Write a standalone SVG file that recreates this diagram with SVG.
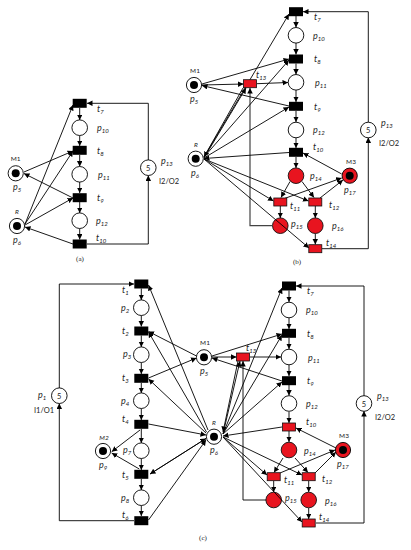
<svg xmlns="http://www.w3.org/2000/svg" width="411" height="550" viewBox="0 0 411 550">
<defs>
<marker id="a" markerUnits="userSpaceOnUse" markerWidth="6" markerHeight="6" refX="5.5" refY="2.75" orient="auto"><path d="M0 0L5.5 2.75L0 5.5z" fill="#000"/></marker>
<symbol id="tb" overflow="visible"><rect x="-7" y="-4.5" width="14" height="9" fill="#000"/></symbol>
<symbol id="tr" overflow="visible"><rect x="-6.5" y="-4" width="13" height="8" fill="#e8141f" stroke="#111" stroke-width="0.8"/></symbol>
<symbol id="pw" overflow="visible"><circle r="7.8" fill="#fff" stroke="#000" stroke-width="0.9"/></symbol>
<symbol id="pr" overflow="visible"><circle r="7.8" fill="#e8141f" stroke="#111" stroke-width="0.9"/></symbol>
<symbol id="pt" overflow="visible"><circle r="7.6" fill="#fff" stroke="#000" stroke-width="0.9"/><circle r="4" fill="#000"/></symbol>
<symbol id="pm" overflow="visible"><circle r="7.6" fill="#e8141f" stroke="#000" stroke-width="0.9"/><circle r="4" fill="#000"/></symbol>
</defs>
<style>
text{font-family:"Lato","Liberation Sans",sans-serif;font-size:9px;fill:#222}
.i{font-style:italic}
.s{font-size:6px}
.c{font-family:"Liberation Serif",serif;font-size:7px}
.n{font-size:6.5px}
.f{font-size:7.5px}
#conn line,#conn polyline{stroke:#000;stroke-width:0.9;fill:none;marker-end:url(#a)}
#conn .g{stroke:#444;stroke-width:1.2}
</style>
<g id="b_p15"><use href="#pr" x="280.3" y="225.7"/><text class="i" x="291" y="227">p<tspan class="s" dy="1.5">15</tspan></text></g>
<g id="c_p15"><use href="#pr" x="273.7" y="500"/><text class="i" x="285" y="501">p<tspan class="s" dy="1.5">15</tspan></text></g>
<g id="conn">
<line x1="79.7" y1="108" x2="79.7" y2="120"/><line x1="79.7" y1="135.5" x2="79.7" y2="146"/><line x1="79.7" y1="155" x2="79.7" y2="166.5"/><line x1="79.7" y1="182" x2="79.7" y2="193"/><line x1="79.7" y1="202" x2="79.7" y2="213"/><line x1="79.7" y1="228.5" x2="79.7" y2="239.5"/>
<polyline points="87,244 148.3,244 148.3,175.5"/><polyline points="148.3,160 148.3,103.3 87,103.3"/>
<line x1="24" y1="172" x2="73" y2="151"/><line x1="73" y1="198" x2="24" y2="173.5"/><line x1="25" y1="224" x2="73" y2="105"/><line x1="25" y1="224" x2="73" y2="151"/><line x1="25" y1="225" x2="73" y2="198"/><line x1="73" y1="244" x2="25" y2="227"/>
<line x1="296" y1="16" x2="296" y2="27.5"/><line x1="296" y1="43" x2="296" y2="54.5"/><line x1="296" y1="63.5" x2="296" y2="74.5"/><line x1="296" y1="90" x2="296" y2="102"/><line x1="296" y1="111" x2="296" y2="122"/><line x1="296" y1="138" x2="296" y2="148"/><line x1="296" y1="157" x2="296" y2="168"/>
<line x1="290" y1="181.5" x2="281" y2="197.5"/><line x1="302" y1="181.5" x2="314" y2="197.5"/><line x1="280.3" y1="206" x2="280.3" y2="218"/><line x1="315.3" y1="206" x2="315.3" y2="218"/><line x1="315.3" y1="233.5" x2="315.3" y2="244.5"/>
<polyline points="322,248.7 368.3,248.7 368.3,137.5"/><polyline points="368.3,122.5 368.3,11.7 303,11.7"/>
<polyline class="g" points="272.5,225.7 250,225.7 250,88"/>
<line x1="320" y1="198" x2="343" y2="180"/><line x1="285" y1="198.3" x2="341.7" y2="178"/><line x1="341.7" y1="174" x2="303" y2="153"/>
<line x1="257" y1="83.7" x2="288" y2="82.5"/>
<line x1="202" y1="84" x2="289" y2="59"/><line x1="289" y1="106" x2="202" y2="85.5"/><line x1="202" y1="85" x2="243.5" y2="84"/>
<line x1="204" y1="157" x2="289" y2="14"/><line x1="204" y1="157" x2="289" y2="60"/><line x1="204" y1="158" x2="289" y2="107"/><line x1="204" y1="158" x2="246" y2="88"/><line x1="243" y1="88" x2="204" y2="157"/>
<line x1="289" y1="152.5" x2="204" y2="158.5"/><line x1="204" y1="159" x2="273.5" y2="201"/><line x1="204" y1="159" x2="308.5" y2="201"/><line x1="204" y1="159" x2="309" y2="248"/>
<polyline points="59.3,388 59.3,284 134,284"/><polyline points="134,520.7 59.3,520.7 59.3,403.5"/>
<line x1="141.3" y1="288.5" x2="141.3" y2="300"/><line x1="141.3" y1="315.5" x2="141.3" y2="326.5"/><line x1="141.3" y1="335.5" x2="141.3" y2="347"/><line x1="141.3" y1="362.5" x2="141.3" y2="374"/><line x1="141.3" y1="383" x2="141.3" y2="393"/><line x1="141.3" y1="408.5" x2="141.3" y2="420"/><line x1="141.3" y1="429" x2="141.3" y2="443"/><line x1="141.3" y1="458.5" x2="141.3" y2="470"/><line x1="141.3" y1="479" x2="141.3" y2="490"/><line x1="141.3" y1="505.5" x2="141.3" y2="516"/>
<line x1="196.5" y1="356" x2="148.5" y2="331.5"/><line x1="148.5" y1="378" x2="196.5" y2="358"/><line x1="208" y1="430" x2="148.5" y2="285"/><line x1="206.5" y1="432" x2="148.5" y2="332"/><line x1="206" y1="433" x2="148.5" y2="379"/><line x1="148.5" y1="424" x2="206" y2="435"/><line x1="206" y1="438.5" x2="150" y2="474"/><line x1="150" y1="474" x2="206" y2="438.5"/><line x1="148.5" y1="520" x2="206" y2="440"/>
<line x1="140" y1="430" x2="111.7" y2="451.7"/><line x1="139.3" y1="469" x2="111.7" y2="453"/>
<line x1="289" y1="290.5" x2="289" y2="302"/><line x1="289" y1="318" x2="289" y2="329"/><line x1="289" y1="338" x2="289" y2="349"/><line x1="289" y1="365" x2="289" y2="376"/><line x1="289" y1="385" x2="289" y2="395.5"/><line x1="289" y1="412" x2="289" y2="423"/><line x1="289" y1="431" x2="289" y2="442"/>
<polyline points="364,396 364,286 296,286"/><polyline points="316,523 364,523 364,411"/>
<line x1="283" y1="458" x2="274" y2="472.5"/><line x1="295" y1="458" x2="308" y2="472.5"/><line x1="273.7" y1="481" x2="273.7" y2="492"/><line x1="308.7" y1="481" x2="308.7" y2="492"/><line x1="308.7" y1="508" x2="308.7" y2="519"/>
<polyline points="266,500 243,500 243,361"/>
<line x1="280" y1="473" x2="335" y2="450"/><line x1="315" y1="473" x2="336" y2="452"/><line x1="336" y1="448" x2="296" y2="428"/>
<line x1="250" y1="357" x2="281" y2="357"/><line x1="212" y1="356" x2="282" y2="334"/><line x1="282" y1="381" x2="212" y2="358"/><line x1="212" y1="357" x2="236.5" y2="357"/>
<line x1="223" y1="434" x2="282" y2="288"/><line x1="223" y1="434" x2="282" y2="335"/><line x1="223" y1="434" x2="282" y2="382"/><line x1="223" y1="434" x2="240" y2="361"/><line x1="238" y1="361" x2="223" y2="432"/>
<line x1="282" y1="427" x2="223" y2="436"/><line x1="223" y1="437" x2="267" y2="475"/><line x1="223" y1="437" x2="302" y2="475"/><line x1="223" y1="437" x2="302" y2="522"/>
</g>
<g id="a-net">
<g id="a_t7"><use href="#tb" x="79.7" y="103.3"/><text class="i" x="97" y="112">t<tspan class="s" dy="1.5">7</tspan></text></g>
<g id="a_p10"><use href="#pw" x="79.7" y="127.7"/><text class="i" x="97" y="131">p<tspan class="s" dy="1.5">10</tspan></text></g>
<g id="a_t8"><use href="#tb" x="79.7" y="150.3"/><text class="i" x="97" y="154">t<tspan class="s" dy="1.5">8</tspan></text></g>
<g id="a_p11"><use href="#pw" x="79.7" y="174.3"/><text class="i" x="98" y="178">p<tspan class="s" dy="1.5">11</tspan></text></g>
<g id="a_t9"><use href="#tb" x="79.7" y="197.7"/><text class="i" x="97" y="201">t<tspan class="s" dy="1.5">9</tspan></text></g>
<g id="a_p12"><use href="#pw" x="79.7" y="220.7"/><text class="i" x="96" y="224">p<tspan class="s" dy="1.5">12</tspan></text></g>
<g id="a_t10"><use href="#tb" x="79.7" y="244"/><text class="i" x="96" y="241">t<tspan class="s" dy="1.5">10</tspan></text></g>
<g id="a_p13"><use href="#pw" x="148.3" y="167.7"/><text x="148.3" y="170.5" text-anchor="middle" class="f">5</text><text class="i" x="161" y="164">p<tspan class="s" dy="1.5">13</tspan></text><text class="f" x="159" y="184">I2/O2</text></g>
<g id="a_p5"><use href="#pt" x="15.7" y="173.3"/><text class="n" x="15.7" y="161" text-anchor="middle">M1</text><text class="i" x="13" y="190">p<tspan class="s" dy="1.5">5</tspan></text></g>
<g id="a_p6"><use href="#pt" x="17" y="226"/><text class="i n" x="17" y="214" text-anchor="middle">R</text><text class="i" x="13" y="243">p<tspan class="s" dy="1.5">6</tspan></text></g>
<text class="c" x="80" y="261" text-anchor="middle">(a)</text>
</g>
<g id="b-net">
<g id="b_t7"><use href="#tb" x="296" y="11.7"/><text class="i" x="314" y="20">t<tspan class="s" dy="1.5">7</tspan></text></g>
<g id="b_p10"><use href="#pw" x="296" y="35.3"/><text class="i" x="313" y="39">p<tspan class="s" dy="1.5">10</tspan></text></g>
<g id="b_t8"><use href="#tb" x="296" y="59"/><text class="i" x="314" y="62">t<tspan class="s" dy="1.5">8</tspan></text></g>
<g id="b_p11"><use href="#pw" x="296" y="82.3"/><text class="i" x="315" y="86">p<tspan class="s" dy="1.5">11</tspan></text></g>
<g id="b_t9"><use href="#tb" x="296" y="106.3"/><text class="i" x="314" y="110">t<tspan class="s" dy="1.5">9</tspan></text></g>
<g id="b_p12"><use href="#pw" x="296" y="130"/><text class="i" x="313" y="133">p<tspan class="s" dy="1.5">12</tspan></text></g>
<g id="b_t10"><use href="#tb" x="296" y="152.3"/><text class="i" x="313" y="150">t<tspan class="s" dy="1.5">10</tspan></text></g>
<g id="b_p14"><use href="#pr" x="296" y="175.7"/><text class="i" x="310" y="179">p<tspan class="s" dy="1.5">14</tspan></text></g>
<g id="b_t11"><use href="#tr" x="280.3" y="202"/><text class="i" x="290" y="209">t<tspan class="s" dy="1.5">11</tspan></text></g>
<g id="b_t12"><use href="#tr" x="315.3" y="202"/><text class="i" x="329" y="208">t<tspan class="s" dy="1.5">12</tspan></text></g>
<g id="b_p16"><use href="#pr" x="315.3" y="225.7"/><text class="i" x="332" y="229">p<tspan class="s" dy="1.5">16</tspan></text></g>
<g id="b_t14"><use href="#tr" x="315.3" y="248.7"/><text class="i" x="326" y="246">t<tspan class="s" dy="1.5">14</tspan></text></g>
<g id="b_t13"><use href="#tr" x="250" y="83.7"/><text class="i" x="256" y="78">t<tspan class="s" dy="1.5">13</tspan></text></g>
<g id="b_p5"><use href="#pt" x="194" y="85"/><text class="n" x="195" y="73" text-anchor="middle">M1</text><text class="i" x="190" y="102">p<tspan class="s" dy="1.5">5</tspan></text></g>
<g id="b_p6"><use href="#pt" x="195.7" y="158.7"/><text class="i n" x="196" y="147" text-anchor="middle">R</text><text class="i" x="191" y="176">p<tspan class="s" dy="1.5">6</tspan></text></g>
<g id="b_p17"><use href="#pm" x="349.7" y="175.7"/><text class="n" x="351" y="164" text-anchor="middle">M3</text><text class="i" x="344" y="193">p<tspan class="s" dy="1.5">17</tspan></text></g>
<g id="b_p13"><use href="#pw" x="368.3" y="130"/><text x="368.3" y="133" text-anchor="middle" class="f">5</text><text class="i" x="381" y="126">p<tspan class="s" dy="1.5">13</tspan></text><text class="f" x="379" y="146">I2/O2</text></g>
<text class="c" x="297" y="264" text-anchor="middle">(b)</text>
</g>
<g id="c-net">
<g id="c_t1"><use href="#tb" x="141.3" y="284"/><text class="i" x="122" y="293">t<tspan class="s" dy="1.5">1</tspan></text></g>
<g id="c_p2"><use href="#pw" x="141.3" y="307.7"/><text class="i" x="121" y="311">p<tspan class="s" dy="1.5">2</tspan></text></g>
<g id="c_t2"><use href="#tb" x="141.3" y="331"/><text class="i" x="122" y="334">t<tspan class="s" dy="1.5">2</tspan></text></g>
<g id="c_p3"><use href="#pw" x="141.3" y="354.7"/><text class="i" x="123" y="357">p<tspan class="s" dy="1.5">3</tspan></text></g>
<g id="c_t3"><use href="#tb" x="141.3" y="378.3"/><text class="i" x="122" y="381">t<tspan class="s" dy="1.5">3</tspan></text></g>
<g id="c_p4"><use href="#pw" x="141.3" y="400.7"/><text class="i" x="121" y="404">p<tspan class="s" dy="1.5">4</tspan></text></g>
<g id="c_t4"><use href="#tb" x="141.3" y="424.3"/><text class="i" x="122" y="422">t<tspan class="s" dy="1.5">4</tspan></text></g>
<g id="c_p7"><use href="#pw" x="141.3" y="450.7"/><text class="i" x="123" y="453">p<tspan class="s" dy="1.5">7</tspan></text></g>
<g id="c_t5"><use href="#tb" x="141.3" y="474.3"/><text class="i" x="122" y="478">t<tspan class="s" dy="1.5">5</tspan></text></g>
<g id="c_p8"><use href="#pw" x="141.3" y="497.7"/><text class="i" x="121" y="501">p<tspan class="s" dy="1.5">8</tspan></text></g>
<g id="c_t6"><use href="#tb" x="141.3" y="520.7"/><text class="i" x="122" y="518">t<tspan class="s" dy="1.5">6</tspan></text></g>
<g id="c_p1"><use href="#pw" x="59.3" y="395.7"/><text x="59.3" y="398.5" text-anchor="middle" class="f">5</text><text class="i" x="38" y="398">p<tspan class="s" dy="1.5">1</tspan></text><text class="f" x="34" y="413">I1/O1</text></g>
<g id="c_p9"><use href="#pt" x="103" y="451"/><text class="i n" x="104" y="440" text-anchor="middle">M2</text><text class="i" x="99" y="468">p<tspan class="s" dy="1.5">9</tspan></text></g>
<g id="c_p5"><use href="#pt" x="204" y="357.3"/><text class="n" x="205" y="345" text-anchor="middle">M1</text><text class="i" x="200" y="374">p<tspan class="s" dy="1.5">5</tspan></text></g>
<g id="c_p6"><use href="#pt" x="214" y="436.7"/><text class="i n" x="214" y="425" text-anchor="middle">R</text><text class="i" x="210" y="453">p<tspan class="s" dy="1.5">6</tspan></text></g>
<g id="c_t7"><use href="#tb" x="289" y="286"/><text class="i" x="307" y="294">t<tspan class="s" dy="1.5">7</tspan></text></g>
<g id="c_p10"><use href="#pw" x="289" y="310"/><text class="i" x="306" y="313">p<tspan class="s" dy="1.5">10</tspan></text></g>
<g id="c_t8"><use href="#tb" x="289" y="333.3"/><text class="i" x="307" y="337">t<tspan class="s" dy="1.5">8</tspan></text></g>
<g id="c_p11"><use href="#pw" x="289" y="357"/><text class="i" x="308" y="361">p<tspan class="s" dy="1.5">11</tspan></text></g>
<g id="c_t9"><use href="#tb" x="289" y="380.7"/><text class="i" x="307" y="384">t<tspan class="s" dy="1.5">9</tspan></text></g>
<g id="c_p12"><use href="#pw" x="289" y="403.5"/><text class="i" x="306" y="407">p<tspan class="s" dy="1.5">12</tspan></text></g>
<g id="c_t10"><use href="#tr" x="289" y="427"/><text class="i" x="306" y="425">t<tspan class="s" dy="1.5">10</tspan></text></g>
<g id="c_p14"><use href="#pr" x="289" y="450"/><text class="i" x="304" y="454">p<tspan class="s" dy="1.5">14</tspan></text></g>
<g id="c_t11"><use href="#tr" x="273.7" y="476.7"/><text class="i" x="284" y="483">t<tspan class="s" dy="1.5">11</tspan></text></g>
<g id="c_t12"><use href="#tr" x="308.7" y="476.7"/><text class="i" x="322" y="482">t<tspan class="s" dy="1.5">12</tspan></text></g>
<g id="c_p16"><use href="#pr" x="308.7" y="500"/><text class="i" x="325" y="504">p<tspan class="s" dy="1.5">16</tspan></text></g>
<g id="c_t14"><use href="#tr" x="308.7" y="523"/><text class="i" x="319" y="520">t<tspan class="s" dy="1.5">14</tspan></text></g>
<g id="c_t13"><use href="#tr" x="243" y="357"/><text class="i" x="246" y="351">t<tspan class="s" dy="1.5">13</tspan></text></g>
<g id="c_p17"><use href="#pm" x="343" y="450"/><text class="n" x="344" y="438" text-anchor="middle">M3</text><text class="i" x="337" y="467">p<tspan class="s" dy="1.5">17</tspan></text></g>
<g id="c_p13"><use href="#pw" x="364" y="403.5"/><text x="364" y="406.5" text-anchor="middle" class="f">5</text><text class="i" x="377" y="399">p<tspan class="s" dy="1.5">13</tspan></text><text class="f" x="375" y="420">I2/O2</text></g>
<text class="c" x="203" y="540" text-anchor="middle">(c)</text>
</g>
</svg>
